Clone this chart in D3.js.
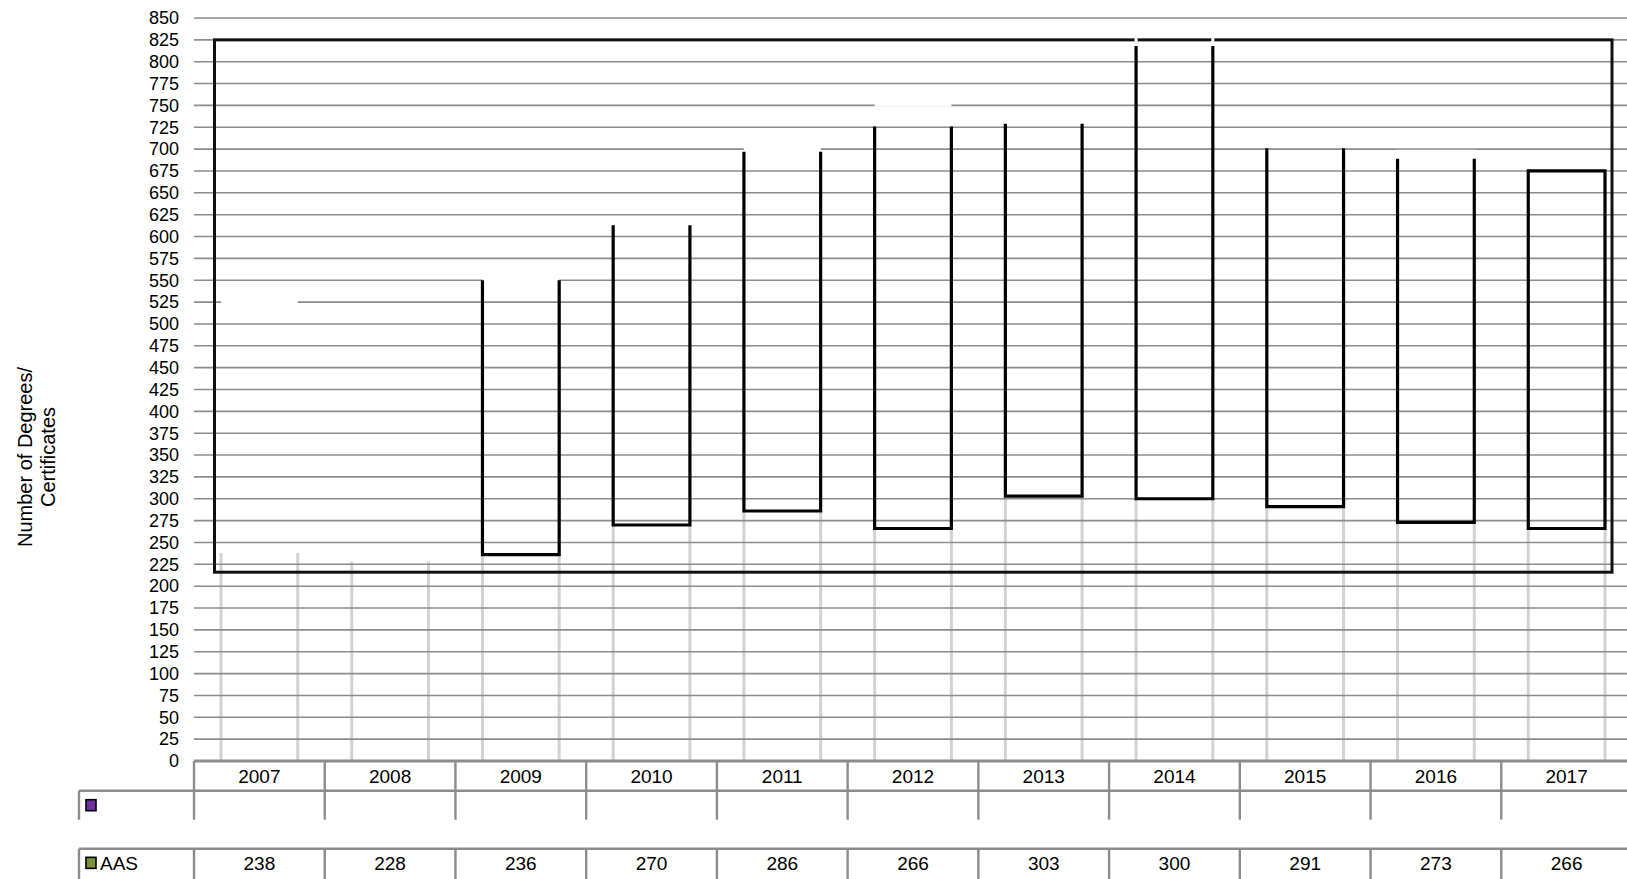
<!DOCTYPE html>
<html lang="en">
<head>
  <meta charset="UTF-8">
  <title>Number of Degrees/Certificates</title>
  <script src="https://d3js.org/d3.v7.min.js"></script>
  <style>
    body { margin: 0; background: #fff; }
    text { font-family: "Liberation Sans", Arial, sans-serif; fill: #000; }
  </style>
</head>
<body>
  <div id="chart"></div>

  <script>
    // Data
    const years = ['2007', '2008', '2009', '2010', '2011', '2012', '2013', '2014', '2015', '2016', '2017'];
    const aasValues = [238, 228, 236, 270, 286, 266, 303, 300, 291, 273, 266];
    // unnamed second series, stacked on AAS (not shown in the table)
    const otherValues = [287, 284, 315, 344, 414, 485, 429, 525, 413, 424, 409];
    // where the black side edges of the upper boxes stop (null = no outline)
    const outlineTops = [null, null, 550, 613, 697, 726, 729, 818, 701, 689, 675];
    const seriesNames = ['', 'AAS'];
    const frameRange = [216, 825];
    const yTicks = d3.range(0, 851, 25);

    const width = 1627;
    const height = 879;
    const plot = { left: 194, right: 1632, top: 18, bottom: 761 };

    const svg = d3.select('#chart')
      .append('svg')
      .attr('width', width)
      .attr('height', height);

    const x = d3.scaleBand()
      .domain(years)
      .range([plot.left, plot.right]);

    const y = d3.scaleLinear()
      .domain([0, 850])
      .range([plot.bottom, plot.top]);

    const bw = x.bandwidth();
    const barW = bw * 0.587;
    const bx = d => x(d) + (bw - barW) / 2;

    const rows = years.map((yr, i) => ({
      year: yr,
      aas: aasValues[i],
      total: aasValues[i] + otherValues[i],
      outlineTop: outlineTops[i]
    }));

    // AAS bars: only faint light side edges
    const aasG = svg.append('g');
    rows.forEach(d => {
      [bx(d.year), bx(d.year) + barW].forEach(xx => {
        aasG.append('line')
          .attr('x1', xx).attr('x2', xx)
          .attr('y1', y(0)).attr('y2', y(d.aas))
          .attr('stroke', '#d2d2d2')
          .attr('stroke-width', 3);
      });
    });

    // horizontal gridlines
    svg.append('g')
      .selectAll('line')
      .data(yTicks.filter(t => t > 0))
      .join('line')
      .attr('x1', plot.left)
      .attr('x2', width)
      .attr('y1', d => y(d))
      .attr('y2', d => y(d))
      .attr('stroke', '#8c8c8c')
      .attr('stroke-width', 1.6);

    // y tick labels
    svg.append('g')
      .selectAll('text')
      .data(yTicks)
      .join('text')
      .attr('x', 179)
      .attr('y', d => y(d))
      .attr('dy', '0.35em')
      .attr('text-anchor', 'end')
      .attr('font-size', 18)
      .text(d => d);

    // upper series: white tops covering the grid
    svg.append('g')
      .selectAll('line')
      .data(rows)
      .join('line')
      .attr('x1', d => bx(d.year))
      .attr('x2', d => bx(d.year) + barW)
      .attr('y1', d => y(d.total))
      .attr('y2', d => y(d.total))
      .attr('stroke', '#fff')
      .attr('stroke-width', 4);

    // black outlines of the upper boxes
    const outG = svg.append('g');
    rows.filter(d => d.outlineTop !== null).forEach(d => {
      const x0 = bx(d.year);
      const x1 = x0 + barW;
      const closed = d.outlineTop >= d.total;
      let p = `M${x0},${y(d.outlineTop)}V${y(d.aas)}H${x1}V${y(d.outlineTop)}`;
      if (closed) p += 'Z';
      outG.append('path')
        .attr('d', p)
        .attr('fill', 'none')
        .attr('stroke', '#000')
        .attr('stroke-width', 3.2);
    });

    // large frame around the plot
    const fx0 = bx(years[0]) - 6.5;
    const fx1 = bx(years[years.length - 1]) + barW + 7;
    svg.append('rect')
      .attr('x', fx0)
      .attr('y', y(frameRange[1]))
      .attr('width', fx1 - fx0)
      .attr('height', y(frameRange[0]) - y(frameRange[1]))
      .attr('fill', 'none')
      .attr('stroke', '#111')
      .attr('stroke-width', 3);

    // small white notches where the tallest box meets the frame
    rows.filter(d => d.total >= frameRange[1]).forEach(d => {
      [bx(d.year), bx(d.year) + barW].forEach(xx => {
        svg.append('line')
          .attr('x1', xx).attr('x2', xx)
          .attr('y1', y(frameRange[1]) - 2).attr('y2', y(d.outlineTop) - 1)
          .attr('stroke', '#fff')
          .attr('stroke-width', 3);
      });
    });

    // y axis title
    const title = svg.append('text')
      .attr('transform', 'translate(0,457) rotate(-90)')
      .attr('text-anchor', 'middle')
      .attr('font-size', 20);
    title.append('tspan').attr('x', 0).attr('y', 32).text('Number of Degrees/');
    title.append('tspan').attr('x', 0).attr('y', 55).text('Certificates');

    // data table
    const tbl = svg.append('g')
      .attr('stroke', '#8c8c8c')
      .attr('stroke-width', 2.4);
    const r0 = y(0), r1 = 790.7, r2 = 819.7, r3 = 848.7;
    const legL = 79;
    tbl.append('line').attr('x1', plot.left).attr('x2', width).attr('y1', r0).attr('y2', r0).attr('stroke-width', 3);
    tbl.append('line').attr('x1', legL).attr('x2', width).attr('y1', r1).attr('y2', r1);
    tbl.append('line').attr('x1', legL).attr('x2', width).attr('y1', r3).attr('y2', r3);
    tbl.append('line').attr('x1', legL).attr('x2', legL).attr('y1', r1).attr('y2', r2);
    tbl.append('line').attr('x1', legL).attr('x2', legL).attr('y1', r3).attr('y2', height);
    years.concat(['end']).forEach(yr => {
      const xx = yr === 'end' ? plot.right : x(yr);
      tbl.append('line').attr('x1', xx).attr('x2', xx).attr('y1', r0).attr('y2', r2);
      tbl.append('line').attr('x1', xx).attr('x2', xx).attr('y1', r3).attr('y2', height);
    });

    svg.append('g')
      .selectAll('text')
      .data(years)
      .join('text')
      .attr('x', d => x(d) + bw / 2)
      .attr('y', (r0 + r1) / 2)
      .attr('dy', '0.35em')
      .attr('text-anchor', 'middle')
      .attr('font-size', 19)
      .text(d => d);

    svg.append('g')
      .selectAll('text')
      .data(rows)
      .join('text')
      .attr('x', d => x(d.year) + bw / 2)
      .attr('y', (r3 + height) / 2 - 1)
      .attr('dy', '0.35em')
      .attr('text-anchor', 'middle')
      .attr('font-size', 19)
      .text(d => d.aas);

    // legend keys in the table
    const keyColors = ['#7030a0', '#77933c'];
    [(r1 + r2) / 2, (r3 + height) / 2 - 1].forEach((cy, i) => {
      svg.append('rect')
        .attr('x', 86).attr('y', cy - 5.5)
        .attr('width', 10).attr('height', 11)
        .attr('fill', keyColors[i])
        .attr('stroke', '#000')
        .attr('stroke-width', 1.6);
      svg.append('text')
        .attr('x', 100).attr('y', cy)
        .attr('dy', '0.35em')
        .attr('font-size', 19)
        .text(seriesNames[i]);
    });
  </script>
</body>
</html>
